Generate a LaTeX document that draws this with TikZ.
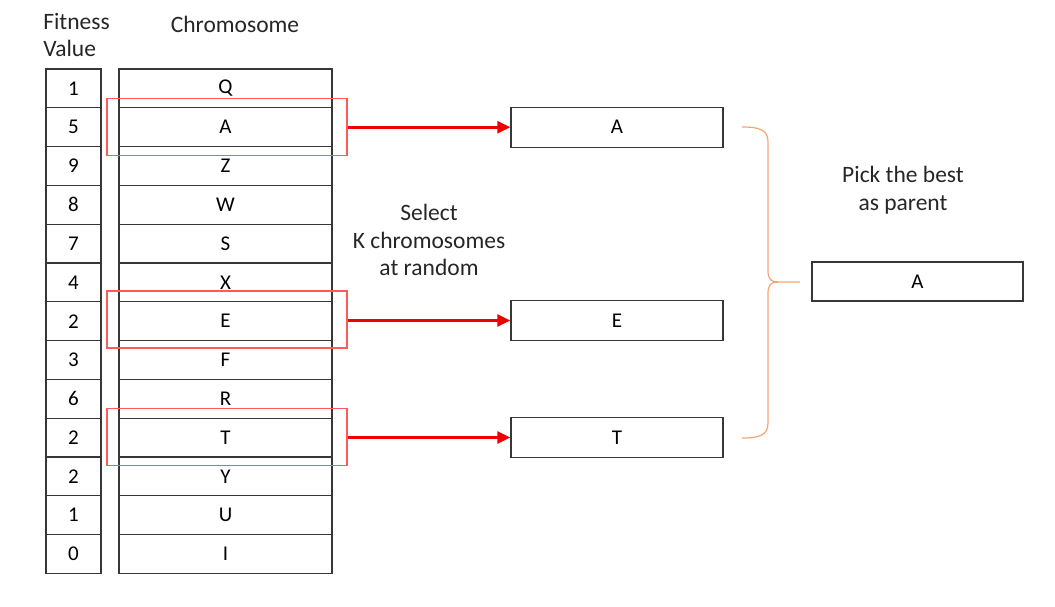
\documentclass[tikz,border=0pt]{standalone}
\usepackage{fontspec}
\setmainfont{Carlito}
\usetikzlibrary{arrows.meta}
\definecolor{gridc}{RGB}{55,55,55}
\definecolor{selred}{RGB}{255,90,90}
\definecolor{arrred}{RGB}{240,0,0}
\definecolor{bracec}{RGB}{242,165,115}
\begin{document}
\begin{tikzpicture}[x=1pt,y=-1pt,
  cell/.style={draw=gridc, line width=1.3pt, inner sep=0pt, minimum height=38.8pt,
    font=\fontsize{21}{25}\selectfont, text=black},
  fitcell/.style={cell, minimum width=55pt},
  chrcell/.style={cell, minimum width=213pt},
  selbox/.style={draw=selred, line width=1.3pt, minimum width=240pt, minimum height=57pt, inner sep=0pt},
  pickbox/.style={cell, minimum width=212pt, minimum height=40pt},
  selarrow/.style={draw=arrred, line width=2.6pt, -{Triangle[length=13pt,width=12pt]}},
  brace/.style={draw=bracec, line width=1.2pt},
  label/.style={font=\fontsize{23.5}{27.5}\selectfont, align=center, inner sep=0pt, text=black!85}
]
\useasboundingbox (0,0) rectangle (1055,606);

% headers
\node[label, align=left, anchor=center] (hfit) at (76.5,35) {Fitness\\Value};
\node[label, anchor=base] (hchr) at (235,32) {Chromosome};

% table
\foreach \v/\c [count=\i from 0] in {1/Q,5/A,9/Z,8/W,7/S,4/X,2/E,3/F,6/R,2/T,2/Y,1/U,0/I}{
  \node[fitcell] (f\i) at (73.5,{69+38.8*(\i+0.5)}) {\v};
  \node[chrcell] (c\i) at (225.5,{69+38.8*(\i+0.5)}) {\c};
}

% selection boxes
\node[selbox] (sA) at (227,127.2) {};
\node[selbox] (sE) at (227,319.5) {};
\node[selbox] (sT) at (227,437) {};

% picked boxes
\node[pickbox] (pA) at (617,127.2) {A};
\node[pickbox] (pE) at (617,320.5) {E};
\node[pickbox] (pT) at (617,437.5) {T};

% arrows
\draw[selarrow] (sA.east) -- (pA.west);
\draw[selarrow] (sE.east |- pE.west) -- (pE.west);
\draw[selarrow] (sT.east |- pT.west) -- (pT.west);

% label middle
\node[label] (lsel) at (429,240) {Select\\K chromosomes\\at random};

% brace
\coordinate (bt) at (742,127);
\coordinate (bb) at (742,438);
\coordinate (bm) at (778,282);
\coordinate (btip) at (800,282);
\draw[brace] (bt) .. controls (760,127) and (768,130) .. (768,142) -- (768,271)
  .. controls (768,279) and (771,282) .. (bm) -- (btip);
\draw[brace] (bm) .. controls (771,282) and (768,285) .. (768,293) -- (768,423)
  .. controls (768,435) and (760,438) .. (bb);

% result
\node[label] (lpick) at (903,190) {Pick the best\\as parent};
\node[pickbox, minimum width=211pt, minimum height=39pt] (best) at (917.5,281.5) {A};
\end{tikzpicture}
\end{document}
